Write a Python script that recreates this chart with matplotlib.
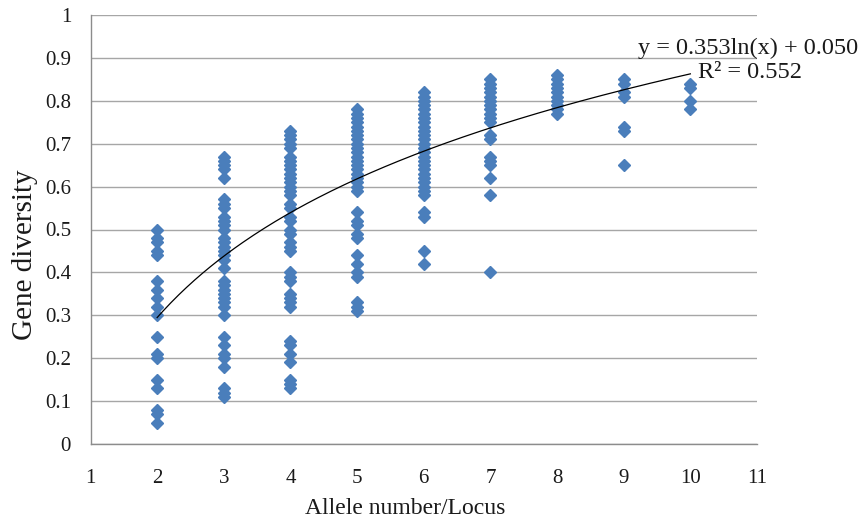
import numpy as np
import matplotlib
matplotlib.use("Agg")
import matplotlib.pyplot as plt

# ---- data ----
alleles = [2, 3, 4, 5, 6, 7, 8, 9, 10]
div_2 = [0.50, 0.48, 0.47, 0.45, 0.44, 0.38, 0.36, 0.34, 0.32, 0.30, 0.25, 0.21, 0.20, 0.15, 0.13, 0.08, 0.07, 0.05]
div_3 = [0.67, 0.66, 0.65, 0.64, 0.62, 0.57, 0.56, 0.55, 0.53, 0.52, 0.51, 0.50, 0.48, 0.47, 0.46, 0.45, 0.44, 0.43,
         0.41, 0.38, 0.37, 0.36, 0.35, 0.34, 0.33, 0.32, 0.30, 0.25, 0.23, 0.21, 0.20, 0.18, 0.13, 0.12, 0.11]
div_4 = [0.73, 0.72, 0.71, 0.70, 0.69, 0.67, 0.66, 0.65, 0.64, 0.63, 0.62, 0.61, 0.60, 0.59, 0.58, 0.56, 0.55, 0.53,
         0.52, 0.50, 0.49, 0.47, 0.46, 0.45, 0.40, 0.39, 0.38, 0.35, 0.34, 0.33, 0.32, 0.24, 0.23, 0.21, 0.19, 0.15,
         0.14, 0.13]
div_5 = [0.78, 0.77, 0.76, 0.75, 0.74, 0.73, 0.72, 0.71, 0.70, 0.69, 0.68, 0.67, 0.66, 0.65, 0.64, 0.63, 0.62, 0.61,
         0.60, 0.59, 0.54, 0.52, 0.51, 0.49, 0.48, 0.44, 0.42, 0.40, 0.39, 0.33, 0.32, 0.31]
div_6 = [0.82, 0.81, 0.80, 0.79, 0.78, 0.77, 0.76, 0.75, 0.74, 0.73, 0.72, 0.71, 0.70, 0.69, 0.68, 0.67, 0.66, 0.65,
         0.64, 0.63, 0.62, 0.61, 0.60, 0.59, 0.58, 0.54, 0.53, 0.45, 0.42]
div_7 = [0.85, 0.84, 0.83, 0.82, 0.81, 0.80, 0.79, 0.78, 0.77, 0.76, 0.75, 0.72, 0.71, 0.67, 0.66, 0.65, 0.62, 0.58, 0.40]
div_8 = [0.86, 0.85, 0.84, 0.83, 0.82, 0.81, 0.80, 0.79, 0.78, 0.77]
div_9 = [0.85, 0.84, 0.82, 0.81, 0.74, 0.73, 0.65]
div_10 = [0.84, 0.83, 0.80, 0.78]
diversity = [div_2, div_3, div_4, div_5, div_6, div_7, div_8, div_9, div_10]

# trendline as printed on the chart
trend_a = 0.353
trend_b = 0.050
r_squared = 0.552

x_ticks = list(range(1, 12))
y_ticks = [0, 0.1, 0.2, 0.3, 0.4, 0.5, 0.6, 0.7, 0.8, 0.9, 1]
y_tick_labels = ["0", "0.1", "0.2", "0.3", "0.4", "0.5", "0.6", "0.7", "0.8", "0.9", "1"]

# ---- figure ----
W, H = 860, 523
fig = plt.figure(figsize=(W / 100, H / 100), dpi=100)
ax = fig.add_axes([90.5 / W, 1 - 444 / H, (757 - 90.5) / W, (444 - 15) / H])

serif = ["Liberation Serif", "DejaVu Serif"]
marker_color = "#4A7EBB"
grid_color = "#A6A6A6"
text_color = "#1A1A1A"

xs = np.concatenate([[a] * len(d) for a, d in zip(alleles, diversity)])
ys = np.concatenate(diversity)
ax.plot(xs, ys, linestyle="none", marker="D", markersize=6.6,
        color=marker_color, markeredgecolor=marker_color, zorder=3)

xt = np.linspace(alleles[0], alleles[-1], 200)
ax.plot(xt, trend_a * np.log(xt) + trend_b, color="black", lw=0.9, zorder=4)

ax.set_xlim(1, 11)
ax.set_ylim(0, 1)
ax.set_xticks(x_ticks)
ax.set_xticklabels([str(t) for t in x_ticks], fontfamily=serif, fontsize=15, color=text_color)
ax.set_yticks(y_ticks)
ax.set_yticklabels(y_tick_labels, fontfamily=serif, fontsize=15, color=text_color)
ax.tick_params(axis="both", length=0)
ax.tick_params(axis="y", pad=14)
ax.tick_params(axis="x", pad=18)

ax.yaxis.grid(True, color=grid_color, lw=1.0)
ax.xaxis.grid(False)
ax.set_axisbelow(True)
for s in ["top", "right"]:
    ax.spines[s].set_visible(False)
for s in ["left", "bottom"]:
    ax.spines[s].set_color("#8C8C8C")
    ax.spines[s].set_linewidth(1.0)

fig.text(25 / W, 1 - 255 / H, "Gene diversity", rotation=90, ha="center", va="center",
         fontfamily=serif, fontsize=21, color=text_color)
fig.text(405 / W, 1 - 508 / H, "Allele number/Locus", ha="center", va="center",
         fontfamily=serif, fontsize=17, color=text_color)

fig.text(638 / W, 1 - 48 / H, "y = %.3fln(x) + %.3f" % (trend_a, trend_b), ha="left", va="center",
         fontfamily=serif, fontsize=17.5, color=text_color)
fig.text(698 / W, 1 - 73 / H, "R\u00b2 = %.3f" % r_squared, ha="left", va="center",
         fontfamily=serif, fontsize=17.5, color=text_color)

fig.savefig("out.png", dpi=100)
